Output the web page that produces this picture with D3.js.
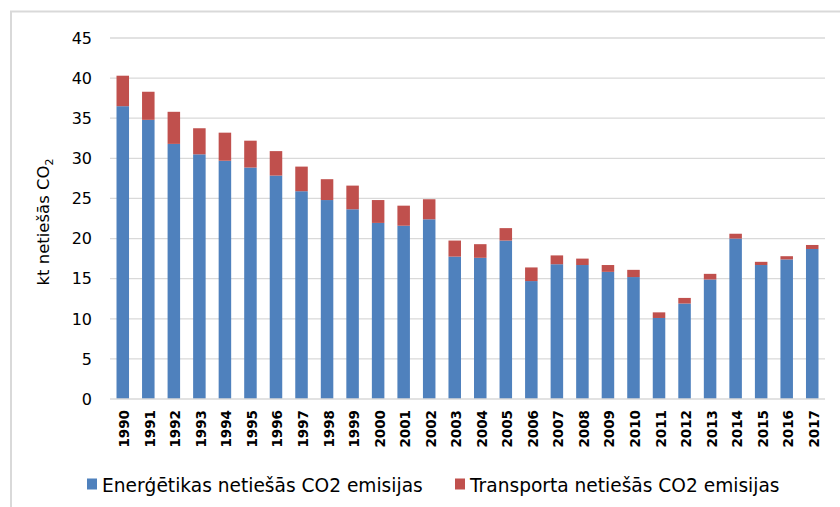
<!DOCTYPE html>
<html><head><meta charset="utf-8">
<script src="https://cdn.jsdelivr.net/npm/d3@7"></script>
<style>body{margin:0;background:#fff}svg{display:block}text{font-family:"DejaVu Sans",sans-serif;fill:#000}</style>
</head><body>
<svg id="c" width="840" height="507"></svg>
<script>
const years = ["1990","1991","1992","1993","1994","1995","1996","1997","1998","1999","2000","2001","2002","2003","2004","2005","2006","2007","2008","2009","2010","2011","2012","2013","2014","2015","2016","2017"];
const energetika = [36.5,34.8,31.8,30.5,29.7,28.85,27.85,25.9,24.8,23.65,21.95,21.6,22.4,17.75,17.6,19.75,14.7,16.8,16.7,15.85,15.2,10.1,11.9,14.9,20.0,16.7,17.4,18.7];
const transports = [3.8,3.5,4.0,3.25,3.5,3.35,3.05,3.07,2.6,2.95,2.85,2.5,2.5,2.0,1.7,1.55,1.7,1.1,0.8,0.85,0.9,0.7,0.7,0.7,0.6,0.4,0.4,0.5];
const yTicks = [0,5,10,15,20,25,30,35,40,45];
const seriesNames = ["Enerģētikas netiešās CO2 emisijas","Transporta netiešās CO2 emisijas"];
const colors = ["#4f81bd","#c0504d"];

const svg = d3.select("#c");
svg.append("rect").attr("x",11).attr("y",11.5).attr("width",900).attr("height",600)
  .attr("fill","none").attr("stroke","#d9d9d9").attr("stroke-width",2);

const x = d3.scaleBand().domain(years).range([110,825]).paddingInner(0.51).paddingOuter(0.255);
const y = d3.scaleLinear().domain([0,45]).range([399,38]);

const g = svg.append("g");
g.selectAll("line.grid").data(yTicks.filter(d=>d>0)).join("line")
  .attr("x1",110).attr("x2",825).attr("y1",d=>y(d)).attr("y2",d=>y(d))
  .attr("stroke","#d9d9d9").attr("stroke-width",1.3);

const data = years.map((yr,i)=>({yr, e:energetika[i], t:transports[i]}));
const stack = d3.stack().keys(["e","t"])(data);
stack.forEach((s,si)=>{
  g.selectAll("rect.s"+si).data(s).join("rect")
    .attr("x",d=>x(d.data.yr)).attr("width",x.bandwidth())
    .attr("y",d=>y(d[1])).attr("height",d=>y(d[0])-y(d[1]))
    .attr("fill",colors[si]);
});

g.append("line").attr("x1",110).attr("x2",825).attr("y1",y(0)).attr("y2",y(0))
  .attr("stroke","#d9d9d9").attr("stroke-width",1.3);

// y tick labels
g.selectAll("text.yt").data(yTicks).join("text")
  .attr("x",92).attr("y",d=>y(d)).attr("dy","0.36em").attr("text-anchor","end")
  .style("font-size","16px").text(d=>d);

// x labels
g.selectAll("text.xt").data(years).join("text")
  .attr("transform",d=>`translate(${x(d)+x.bandwidth()/2+6.5},${410}) rotate(-90)`)
  .attr("text-anchor","end").style("font-size","13.5px").style("font-weight","bold").text(d=>d);

// y title
const yt = svg.append("text").attr("transform","translate(49,222) rotate(-90)")
  .attr("text-anchor","middle").style("font-size","16.5px");
yt.append("tspan").text("kt netiešās CO");
yt.append("tspan").attr("dy",4).style("font-size","11px").text("2");

// legend
const lx = [87,455];
seriesNames.forEach((n,i)=>{
  svg.append("rect").attr("x",lx[i]).attr("y",478.5).attr("width",10).attr("height",11).attr("fill",colors[i]);
  svg.append("text").attr("x",lx[i]+15).attr("y",491.5).style("font-size","18.6px").text(n);
});
</script>
</body></html>
